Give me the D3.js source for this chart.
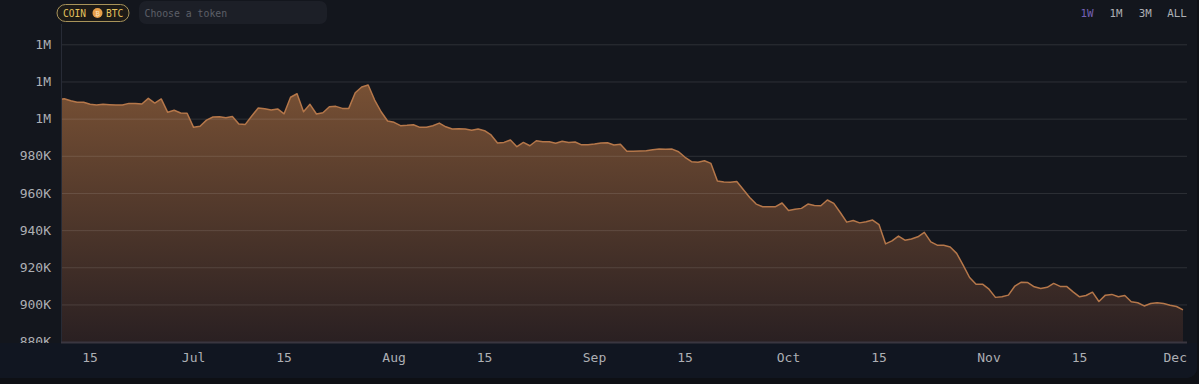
<!DOCTYPE html>
<html>
<head>
<meta charset="utf-8">
<script src="https://cdn.jsdelivr.net/npm/d3@7"></script>
<style>
html,body{margin:0;padding:0;background:#0e1015;overflow:hidden}
svg{display:block}
text{font-family:"DejaVu Sans Mono","Liberation Mono",monospace}
</style>
</head>
<body>
<svg id="chart" width="1199" height="384"></svg>
<script>
// Portfolio value in thousands, one per day, with the partial first day first
const valuesK = [1010.4,
1010.7,1009.6,1008.8,1008.8,1007.7,1007.3,1007.7,1007.5,1007.3,1007.3,
1008.2,1008.2,1007.9,1010.9,1008.4,1010.6,1003.4,1004.5,1003.0,1002.9,
995.3,995.9,999.2,1000.9,1001.0,1000.5,1001.2,997.1,996.9,1001.4,
1005.7,1005.3,1004.6,1005.2,1002.6,1011.5,1013.4,1003.7,1007.7,1002.5,
1003.2,1006.4,1006.6,1005.5,1005.5,1013.9,1017.0,1018.1,1010.0,1003.7,
998.7,998.0,996.2,996.4,996.7,995.3,995.4,996.2,997.6,995.6,
994.4,994.6,994.4,993.7,994.4,993.5,991.2,986.9,987.2,988.5,
984.9,987.2,985.4,988.1,987.6,987.6,986.7,987.8,987.2,987.4,
985.9,985.9,986.3,986.9,987.0,985.8,986.2,982.4,982.4,982.6,
982.7,983.3,983.6,983.5,983.6,982.2,979.2,976.8,976.5,977.3,
975.9,966.4,965.9,965.7,966.2,961.9,957.6,954.0,952.6,952.6,
952.6,954.6,950.5,951.2,951.7,954.0,953.3,953.1,956.2,954.4,
949.5,944.3,945.2,943.9,944.5,945.4,942.9,932.6,934.2,936.8,
934.6,935.2,936.4,938.8,933.7,931.9,931.8,930.9,927.5,921.2,
914.5,910.9,910.9,908.2,903.8,904.1,905.0,909.9,912.0,911.8,
909.5,908.6,909.2,911.3,909.7,909.7,906.8,904.1,904.8,906.6,
901.6,905.0,905.4,904.1,904.8,901.4,900.9,899.2,900.5,900.9,
900.5,899.6,898.9,897.1];

const domainStart = "2023-06-10T12:00:00Z";
const firstDay = "2023-06-11T00:00:00Z";
const domainEnd = "2023-12-01T00:00:00Z";

const yTickValues = [880,900,920,940,960,980,1000,1020,1040];
const yTickLabels = ["880K","900K","920K","940K","960K","980K","1M","1M","1M"];

const xTickDates = ["2023-06-15","2023-07-01","2023-07-15","2023-08-01","2023-08-15","2023-09-01","2023-09-15","2023-10-01","2023-10-15","2023-11-01","2023-11-15","2023-12-01"];
const xTickLabels = ["15","Jul","15","Aug","15","Sep","15","Oct","15","Nov","15","Dec"];

const rangeLabels = ["1W","1M","3M","ALL"];

const labelColor = "#adafb4";

const svg = d3.select("#chart");
const defs = svg.append("defs");

const x = d3.scaleUtc().domain([new Date(domainStart), new Date(domainEnd)]).range([61, 1183]);
const y = d3.scaleLinear().domain([880, 1040]).range([341.6, 44.3]);

const points = valuesK.map((v, i) => ({
  date: i === 0 ? new Date(domainStart) : d3.utcDay.offset(new Date(firstDay), i - 1),
  value: v
}));

// panels
svg.append("rect").attr("width",1199).attr("height",384).attr("fill","#0e1015");
svg.append("rect").attr("x",-10).attr("y",-10).attr("width",1207).attr("height",388).attr("rx",10).attr("fill","#13161d");
svg.append("rect").attr("x",-10).attr("y",343).attr("width",1207).attr("height",35).attr("rx",10).attr("fill","#111621");
svg.append("rect").attr("x",-10).attr("y",343).attr("width",1207).attr("height",12).attr("fill","#111621");

const grad = defs.append("linearGradient").attr("id","areaFill")
  .attr("gradientUnits","userSpaceOnUse").attr("x1",0).attr("x2",0).attr("y1",85).attr("y2",342);
grad.append("stop").attr("offset",0).attr("stop-color","#775034");
grad.append("stop").attr("offset",1).attr("stop-color","#2a2022");

defs.append("clipPath").attr("id","plotClip").append("rect")
  .attr("x",0).attr("y",0).attr("width",1199).attr("height",343);

// area and line
svg.append("path").datum(points).attr("fill","url(#areaFill)")
  .attr("d", d3.area().x(d => x(d.date)).y0(342).y1(d => y(d.value)));

// grid
const grid = svg.append("g").attr("transform","translate(61,0)")
  .call(d3.axisLeft(y).tickValues(yTickValues.slice(1)).tickSize(-1126).tickFormat(""));
grid.select(".domain").remove();
grid.selectAll("line").attr("stroke","#ffffff").attr("stroke-opacity",0.115).attr("stroke-width",1);

svg.append("path").datum(points).attr("fill","none").attr("stroke","#b5774a").attr("stroke-width",1.5)
  .attr("stroke-linejoin","round")
  .attr("d", d3.line().x(d => x(d.date)).y(d => y(d.value)));

// y axis
const yAxis = svg.append("g").attr("transform","translate(61,0)")
  .call(d3.axisLeft(y).tickValues(yTickValues).tickSize(0).tickPadding(10)
    .tickFormat((d,i) => yTickLabels[i]));
yAxis.select(".domain").remove();
yAxis.selectAll("text").attr("fill",labelColor).attr("font-size",13);
yAxis.selectAll("text").filter(d => d === 880).remove();
svg.append("g").attr("clip-path","url(#plotClip)").append("text")
  .attr("x",51).attr("y",y(880)).attr("dy","0.32em").attr("text-anchor","end")
  .attr("fill",labelColor).attr("font-size",13).text(yTickLabels[0]);

svg.append("line").attr("x1",61.5).attr("x2",61.5).attr("y1",24).attr("y2",343)
  .attr("stroke","#272b36").attr("stroke-width",1);
svg.append("line").attr("x1",61).attr("x2",1187).attr("y1",342.5).attr("y2",342.5)
  .attr("stroke","#3a3640").attr("stroke-width",2);

// x axis
const xAxis = svg.append("g").attr("transform","translate(-0.5,353)")
  .call(d3.axisBottom(x).tickValues(xTickDates.map(d => new Date(d + "T00:00:00Z")))
    .tickSize(0).tickPadding(0).tickFormat((d,i) => xTickLabels[i]));
xAxis.select(".domain").remove();
xAxis.selectAll("text").attr("fill",labelColor).attr("font-size",13);
xAxis.selectAll("text").filter((d,i) => i === xTickLabels.length - 1).attr("text-anchor","end").attr("x",4);

// token pill
svg.append("rect").attr("x",57).attr("y",4.5).attr("width",72).attr("height",17).attr("rx",8.5)
  .attr("fill","#1d1b17").attr("stroke","#a8935a").attr("stroke-width",1);
svg.append("text").attr("x",63).attr("y",16.5).attr("fill","#e4c25e").attr("font-size",9.6).text("COIN");
svg.append("circle").attr("cx",97.5).attr("cy",13).attr("r",5).attr("fill","#e8a04a");
svg.append("text").attr("x",97.5).attr("y",15.5).attr("text-anchor","middle").attr("fill","#f8e0b8").attr("font-size",7).text("₿");
svg.append("text").attr("x",106).attr("y",16.5).attr("fill","#e4c25e").attr("font-size",9.6).text("BTC");

// token input
svg.append("rect").attr("x",139).attr("y",1).attr("width",188).attr("height",23).attr("rx",7).attr("fill","#1c1f27");
svg.append("text").attr("x",144.5).attr("y",16.5).attr("fill","#5c5f67").attr("font-size",9.8).text("Choose a token");

// range buttons
const rangeX = d3.scalePoint().domain(rangeLabels).range([1087,1173]);
svg.selectAll("text.range").data(rangeLabels).join("text").attr("class","range")
  .attr("x", d => d === "ALL" ? 1177 : rangeX(d) + (d === "1W" ? 0 : d === "1M" ? 0.3 : 1))
  .attr("y",17).attr("text-anchor","middle").attr("font-size",10.8)
  .attr("fill",(d,i) => i === 0 ? "#7460b4" : labelColor).text(d => d);
</script>
</body>
</html>
